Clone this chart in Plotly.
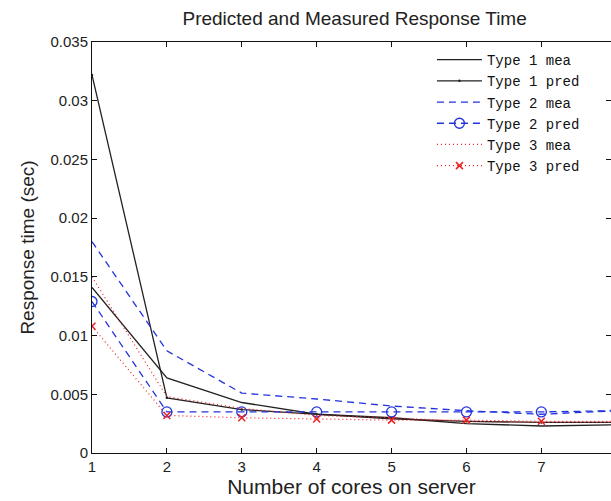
import plotly.graph_objects as go

cores = [1, 2, 3, 4, 5, 6, 7, 8]
type1_mea = [0.0141, 0.0064, 0.0043, 0.0033, 0.0030, 0.0025, 0.0023, 0.0024]
type1_pred = [0.0322, 0.0047, 0.0037, 0.0033, 0.0029, 0.0027, 0.0026, 0.0026]
type2_mea = [0.0180, 0.0087, 0.0051, 0.0046, 0.0040, 0.0036, 0.0033, 0.0036]
type2_pred = [0.0129, 0.0035, 0.0035, 0.0035, 0.0035, 0.0035, 0.0035, 0.0036]
type3_mea = [0.0150, 0.0048, 0.0038, 0.0032, 0.0030, 0.0027, 0.0026, 0.0026]
type3_pred = [0.0108, 0.0032, 0.0030, 0.0029, 0.0028, 0.0028, 0.0027, 0.0027]
names = ["Type 1 mea", "Type 1 pred", "Type 2 mea", "Type 2 pred", "Type 3 mea", "Type 3 pred"]
y_ticks = [0, 0.005, 0.01, 0.015, 0.02, 0.025, 0.03, 0.035]
y_ticktext = ["0", "0.005", "0.01", "0.015", "0.02", "0.025", "0.03", "0.035"]

BLACK = "#222222"
BLUE = "#2233dd"
RED = "#ee2222"
SANS = "Liberation Sans, Arial"

fig = go.Figure()
fig.add_trace(go.Scatter(x=cores, y=type1_mea, name=names[0], mode="lines",
                         line=dict(color=BLACK, width=1.3)))
fig.add_trace(go.Scatter(x=cores, y=type1_pred, name=names[1], mode="lines+markers",
                         line=dict(color=BLACK, width=1.3),
                         marker=dict(symbol="circle", size=2.5, color=BLACK)))
fig.add_trace(go.Scatter(x=cores, y=type2_mea, name=names[2], mode="lines",
                         line=dict(color=BLUE, width=1.3, dash="7px,5px")))
fig.add_trace(go.Scatter(x=cores, y=type2_pred, name=names[3], mode="lines+markers",
                         line=dict(color=BLUE, width=1.3, dash="7px,5px"),
                         marker=dict(symbol="circle-open", size=10, color=BLUE,
                                     line=dict(width=1.3, color=BLUE))))
fig.add_trace(go.Scatter(x=cores, y=type3_mea, name=names[4], mode="lines",
                         line=dict(color=RED, width=1.2, dash="1px,3px")))
fig.add_trace(go.Scatter(x=cores, y=type3_pred, name=names[5], mode="lines+markers",
                         line=dict(color=RED, width=1.2, dash="1px,3px"),
                         marker=dict(symbol="x-thin-open", size=7, color=RED,
                                     line=dict(width=1.5, color=RED))))

axis_common = dict(showline=True, linecolor="#111111", linewidth=1, mirror="ticks",
                   ticks="inside", ticklen=5, tickcolor="#111111", showgrid=False,
                   zeroline=False, tickfont=dict(family=SANS, size=15, color="#222222"))

fig.update_layout(
    width=611, height=501,
    margin=dict(l=92, r=0, t=42, b=48),
    paper_bgcolor="white", plot_bgcolor="white",
    title=dict(text="Predicted and Measured Response Time", x=0.506, xref="paper",
               y=0.964, yref="container", xanchor="center", yanchor="middle",
               font=dict(family=SANS, size=19, color="#222222")),
    xaxis=dict(range=[1, 7.93], tickvals=cores, **axis_common,
               title=dict(text="Number of cores on server", standoff=5,
                          font=dict(family=SANS, size=21, color="#222222"))),
    yaxis=dict(range=[0, 0.035], tickvals=y_ticks, ticktext=y_ticktext, **axis_common,
               title=dict(text="Response time (sec)", standoff=10,
                          font=dict(family=SANS, size=19, color="#222222"))),
    legend=dict(x=0.655, y=0.995, xanchor="left", yanchor="top",
                bgcolor="rgba(255,255,255,0)", borderwidth=0,
                font=dict(family="Liberation Mono, Courier New, monospace", size=14, color="#111111"),
                itemwidth=45, tracegroupgap=0),
    showlegend=True,
)

fig.write_html("out.html")
